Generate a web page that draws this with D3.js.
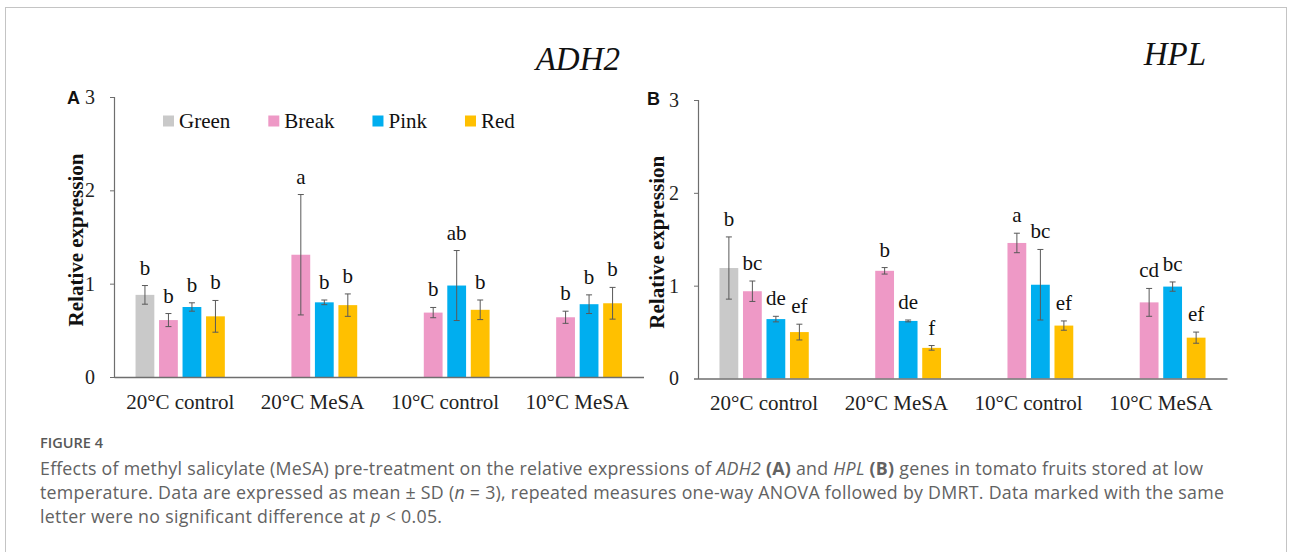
<!DOCTYPE html>
<html><head><meta charset="utf-8">
<script src="https://cdn.jsdelivr.net/npm/d3@7/dist/d3.min.js"></script>
<style>
html,body{margin:0;padding:0;background:#fff;}
svg{display:block;}
</style>
</head><body>
<svg id="chart" width="1292" height="552"></svg>
<script>
// ---------- data ----------
const categories = ["20°C control", "20°C MeSA", "10°C control", "10°C MeSA"];
const series = ["Green", "Break", "Pink", "Red"];
const seriesColors = ["#C9C9C9", "#EE99C6", "#00AEEF", "#FFC000"];
const yTicks = [0, 1, 2, 3];

// ADH2 (panel A)
const adh2Green = [0.88, null, null, null];
const adh2Break = [0.61, 1.31, 0.69, 0.64];
const adh2Pink  = [0.75, 0.80, 0.98, 0.78];
const adh2Red   = [0.65, 0.77, 0.72, 0.79];
const adh2GreenSD = [0.10, null, null, null];
const adh2BreakSD = [0.07, 0.645, 0.055, 0.065];
const adh2PinkSD  = [0.045, 0.025, 0.375, 0.10];
const adh2RedSD   = [0.17, 0.12, 0.105, 0.17];
const adh2GreenLet = ["b", null, null, null];
const adh2BreakLet = ["b", "a", "b", "b"];
const adh2PinkLet  = ["b", "b", "ab", "b"];
const adh2RedLet   = ["b", "b", "b", "b"];

// HPL (panel B)
const hplGreen = [1.19, null, null, null];
const hplBreak = [0.94, 1.16, 1.46, 0.82];
const hplPink  = [0.64, 0.62, 1.01, 0.99];
const hplRed   = [0.50, 0.33, 0.57, 0.44];
const hplGreenSD = [0.335, null, null, null];
const hplBreakSD = [0.11, 0.035, 0.105, 0.15];
const hplPinkSD  = [0.03, 0.01, 0.38, 0.05];
const hplRedSD   = [0.085, 0.025, 0.05, 0.06];
const hplGreenLet = ["b", null, null, null];
const hplBreakLet = ["bc", "b", "a", "cd"];
const hplPinkLet  = ["de", "de", "bc", "bc"];
const hplRedLet   = ["ef", "f", "ef", "ef"];

// ---------- drawing ----------
const svg = d3.select("#chart");
const SERIF = "'Liberation Serif','Times New Roman',serif";
const SANS = "'Liberation Sans',Arial,sans-serif";

// outer frame
svg.append("rect").attr("x", 5.5).attr("y", 7.5).attr("width", 1281).attr("height", 620)
  .attr("fill", "none").attr("stroke", "#c4c4c4").attr("stroke-width", 1);

function buildRows(means, sds, lets) {
  const rows = [];
  categories.forEach((c, ci) => {
    series.forEach((s, si) => {
      if (means[si][ci] != null) rows.push({cat: c, ser: s, si, v: means[si][ci], sd: sds[si][ci], lab: lets[si][ci]});
    });
  });
  return rows;
}

function panel(opt) {
  const g = svg.append("g");
  const x0 = d3.scaleBand().domain(categories).range(opt.xRange).paddingInner(0).paddingOuter(0);
  const x1 = d3.scaleBand().domain(series).range([-47, 47]).paddingInner(0.2).paddingOuter(0.1);
  const y = d3.scaleLinear().domain([0, 3]).range(opt.yRange);
  const color = d3.scaleOrdinal().domain(series).range(seriesColors);

  // y axis
  const ya = g.append("g").attr("transform", `translate(${opt.xRange[0]},0)`)
    .call(d3.axisLeft(y).tickValues(yTicks).tickFormat(d3.format("d")).tickSize(4).tickPadding(15));
  ya.select(".domain").attr("stroke", "#6e6e6e").attr("stroke-width", 1.2);
  ya.selectAll(".tick line").attr("stroke", "#6e6e6e");
  ya.selectAll("text").attr("font-family", SERIF).attr("font-size", 20).attr("fill", "#222");

  // bars
  const rows = opt.rows;
  g.selectAll("rect.bar").data(rows).enter().append("rect").attr("class", "bar")
    .attr("x", d => x0(d.cat) + x0.bandwidth() / 2 + x1(d.ser))
    .attr("width", x1.bandwidth())
    .attr("y", d => y(d.v))
    .attr("height", d => y(0) - y(d.v))
    .attr("fill", d => color(d.ser));

  // x axis
  const xa = g.append("g").attr("transform", `translate(0,${opt.yRange[0]})`)
    .call(d3.axisBottom(x0).tickSize(0).tickPadding(17));
  xa.select(".domain").attr("stroke", "#6e6e6e").attr("stroke-width", 1.4);
  xa.selectAll("text").attr("font-family", SERIF).attr("font-size", 21).attr("fill", "#222");

  // error bars
  const cx = d => x0(d.cat) + x0.bandwidth() / 2 + x1(d.ser) + x1.bandwidth() / 2;
  const eb = g.selectAll("g.err").data(rows).enter().append("g").attr("class", "err")
    .attr("stroke", "#595959").attr("stroke-width", 1);
  eb.append("line").attr("x1", cx).attr("x2", cx).attr("y1", d => y(d.v + d.sd)).attr("y2", d => y(d.v - d.sd));
  eb.append("line").attr("x1", d => cx(d) - 3).attr("x2", d => cx(d) + 3).attr("y1", d => y(d.v + d.sd)).attr("y2", d => y(d.v + d.sd));
  eb.append("line").attr("x1", d => cx(d) - 3).attr("x2", d => cx(d) + 3).attr("y1", d => y(d.v - d.sd)).attr("y2", d => y(d.v - d.sd));

  // significance letters
  g.selectAll("text.sig").data(rows).enter().append("text").attr("class", "sig")
    .attr("x", cx).attr("y", d => y(d.v + d.sd) - 11)
    .attr("text-anchor", "middle").attr("font-family", SERIF).attr("font-size", 21).attr("fill", "#111")
    .text(d => d.lab);

  // y label
  g.append("text")
    .attr("transform", `translate(${opt.yLabelX},${(opt.yRange[0] + opt.yRange[1]) / 2 + 3}) rotate(-90)`)
    .attr("text-anchor", "middle").attr("font-family", SERIF).attr("font-weight", "bold")
    .attr("font-size", 21).attr("fill", "#111").text("Relative expression");

  // panel letter
  g.append("text").attr("x", opt.letterX).attr("y", opt.letterY).attr("font-family", SANS)
    .attr("font-weight", "bold").attr("font-size", 18).attr("fill", "#111").text(opt.letter);

  // gene title
  g.append("text").attr("x", opt.titleX).attr("y", opt.titleY).attr("text-anchor", "end")
    .attr("font-family", SERIF).attr("font-style", "italic").attr("font-size", 33).attr("fill", "#111")
    .text(opt.title);

  return {x0, x1, y, color, g};
}

const A = panel({
  rows: buildRows([adh2Green, adh2Break, adh2Pink, adh2Red],
                  [adh2GreenSD, adh2BreakSD, adh2PinkSD, adh2RedSD],
                  [adh2GreenLet, adh2BreakLet, adh2PinkLet, adh2RedLet]),
  xRange: [114, 643.5], yRange: [377, 97],
  yLabelX: 83, letter: "A", letterX: 67, letterY: 104,
  title: "ADH2", titleX: 620, titleY: 70
});
const B = panel({
  rows: buildRows([hplGreen, hplBreak, hplPink, hplRed],
                  [hplGreenSD, hplBreakSD, hplPinkSD, hplRedSD],
                  [hplGreenLet, hplBreakLet, hplPinkLet, hplRedLet]),
  xRange: [698, 1227], yRange: [378.5, 100],
  yLabelX: 664, letter: "B", letterX: 647, letterY: 105,
  title: "HPL", titleX: 1206, titleY: 65
});

// legend (panel A)
const leg = svg.append("g");
let lx = 163;
series.forEach((s, i) => {
  leg.append("rect").attr("x", lx).attr("y", 115.5).attr("width", 11).attr("height", 11).attr("fill", seriesColors[i]);
  const t = leg.append("text").attr("x", lx + 16).attr("y", 127.5).attr("font-family", SERIF)
    .attr("font-size", 21).attr("fill", "#111").text(s);
  lx += 16 + t.node().getComputedTextLength() + 38;
});

// caption
const CAP = "'Open Sans','Noto Sans',sans-serif";
const capColor = "#626262";
svg.append("text").attr("x", 40).attr("y", 448).attr("font-family", CAP).attr("font-size", 15)
  .attr("font-weight", 600).attr("fill", "#585858")
  .attr("textLength", 63).attr("lengthAdjust", "spacingAndGlyphs").text("FIGURE 4");
const capLines = [
  [["Effects of methyl salicylate (MeSA) pre-treatment on the relative expressions of ", ""], ["ADH2", "i"], [" ", ""], ["(A)", "b"], [" and ", ""], ["HPL", "i"], [" ", ""], ["(B)", "b"], [" genes in tomato fruits stored at low", ""]],
  [["temperature. Data are expressed as mean \u00B1 SD (", ""], ["n", "i"], [" = 3), repeated measures one-way ANOVA followed by DMRT. Data marked with the same", ""]],
  [["letter were no significant difference at ", ""], ["p", "i"], [" < 0.05.", ""]]
];
const capW = [1163, 1184, 402];
capLines.forEach((parts, li) => {
  const t = svg.append("text").attr("x", 40).attr("y", 475 + li * 24.2).attr("font-family", CAP)
    .attr("font-size", 17.8).attr("fill", capColor)
    .attr("textLength", capW[li]).attr("lengthAdjust", "spacing");
  parts.forEach(([txt, st]) => {
    const ts = t.append("tspan").text(txt);
    if (st === "i") ts.attr("font-style", "italic");
    if (st === "b") ts.attr("font-weight", "bold");
  });
});
</script>
</body></html>
